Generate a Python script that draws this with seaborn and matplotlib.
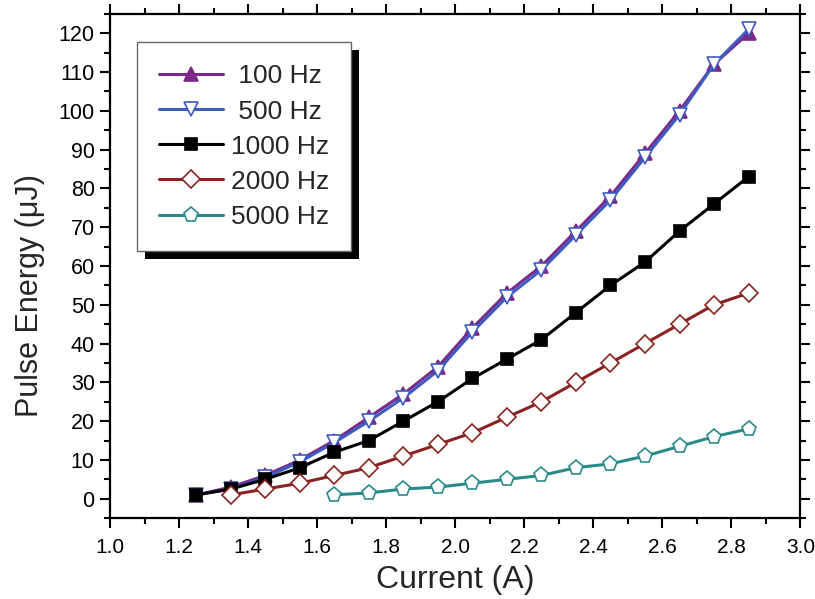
import numpy as np
import pandas as pd
import matplotlib
matplotlib.use("Agg")
import matplotlib.pyplot as plt
from matplotlib.patches import Rectangle
from matplotlib.transforms import IdentityTransform
from matplotlib.ticker import MultipleLocator
import seaborn as sns

# --------------------------------------------
# DATA
# --------------------------------------------
current = [1.25, 1.35, 1.45, 1.55, 1.65, 1.75, 1.85, 1.95, 2.05,
           2.15, 2.25, 2.35, 2.45, 2.55, 2.65, 2.75, 2.85]

e_100 = [1, 3, 6, 10, 15, 21, 27, 34, 44, 53, 60, 69, 78, 89, 100, 112, 120]
e_500 = [1, 2.5, 5.5, 9.5, 14.5, 20, 26, 33, 43, 52, 59, 68, 77, 88, 99, 112, 121]
e_1000 = [1, 2.5, 5, 8, 12, 15, 20, 25, 31, 36, 41, 48, 55, 61, 69, 76, 83]
current_2000 = current[1:]
e_2000 = [1, 2.5, 4, 6, 8, 11, 14, 17, 21, 25, 30, 35, 40, 45, 50, 53]
current_5000 = current[4:]
e_5000 = [1, 1.5, 2.5, 3, 4, 5, 6, 8, 9, 11, 13.5, 16, 18]

labels = ["100 Hz", "500 Hz", "1000 Hz", "2000 Hz", "5000 Hz"]

frames = [
    pd.DataFrame({"Current": current, "Energy": e_100, "Rate": labels[0]}),
    pd.DataFrame({"Current": current, "Energy": e_500, "Rate": labels[1]}),
    pd.DataFrame({"Current": current, "Energy": e_1000, "Rate": labels[2]}),
    pd.DataFrame({"Current": current_2000, "Energy": e_2000, "Rate": labels[3]}),
    pd.DataFrame({"Current": current_5000, "Energy": e_5000, "Rate": labels[4]}),
]
df = pd.concat(frames, ignore_index=True)

# --------------------------------------------
# STYLE
# --------------------------------------------
sns.set_style("ticks")
plt.rcParams['font.family'] = ['Liberation Sans', 'DejaVu Sans']

styles = {
    "100 Hz":  dict(color="#7b2a8a", marker="^", mfc="#7b2a8a", ms=10),
    "500 Hz":  dict(color="#3f5bbf", marker="v", mfc="white", ms=10),
    "1000 Hz": dict(color="black", marker="s", mfc="black", ms=9),
    "2000 Hz": dict(color="#8b2222", marker="D", mfc="white", ms=9),
    "5000 Hz": dict(color="#2a8a8a", marker="p", mfc="white", ms=11),
}

fig = plt.figure(figsize=(8.15, 5.99), dpi=100)
ax = fig.add_axes([0.135, 0.135, 0.847, 0.842])

for name in labels:
    s = styles[name]
    sub = df[df["Rate"] == name]
    # leading space keeps the legend labels centred like the original
    lab = " " + name if len(name) < 7 else name
    sns.lineplot(data=sub, x="Current", y="Energy", ax=ax, label=lab,
                 color=s["color"], marker=s["marker"], markersize=s["ms"],
                 markerfacecolor=s["mfc"], markeredgecolor=s["color"],
                 markeredgewidth=1.2, linewidth=2.2, sort=False, estimator=None)

ax.set_xlim(1.0, 3.0)
ax.set_ylim(-5, 125)
ax.xaxis.set_major_locator(MultipleLocator(0.2))
ax.xaxis.set_minor_locator(MultipleLocator(0.1))
ax.yaxis.set_minor_locator(MultipleLocator(5))
ax.set_yticks(np.arange(0, 121, 10))

for sp in ax.spines.values():
    sp.set_visible(True)
    sp.set_linewidth(1.6)
    sp.set_color("black")

ax.tick_params(axis="both", which="both", direction="out", width=1.5,
               top=True, right=True, colors="black")
ax.tick_params(axis="both", which="major", length=7)
ax.tick_params(axis="both", which="minor", length=4)
ax.tick_params(axis="y", labelsize=15.5, pad=4)
ax.tick_params(axis="x", labelsize=15, pad=7)

ax.set_xlabel("Current (A)", fontsize=23, labelpad=6)
ax.set_ylabel("Pulse Energy (\u03bcJ)", fontsize=22)
ax.yaxis.set_label_coords(-0.094, 0.442)

leg = ax.legend(loc="upper left", bbox_to_anchor=(0.039, 0.944), fontsize=19,
                handlelength=2.4, handletextpad=0.3, borderpad=0.85,
                labelspacing=0.42, fancybox=False, framealpha=1,
                edgecolor="#666666", borderaxespad=0)
leg.get_frame().set_linewidth(1.0)
leg.set_zorder(6)

# black drop shadow behind the legend box
fig.canvas.draw()
bb = leg.get_window_extent()
ax.add_patch(Rectangle((bb.x0 + 8, bb.y0 - 8), bb.width, bb.height,
                       transform=IdentityTransform(), facecolor="black",
                       edgecolor="none", zorder=5.5, clip_on=False))

fig.savefig("out.png", dpi=100)
